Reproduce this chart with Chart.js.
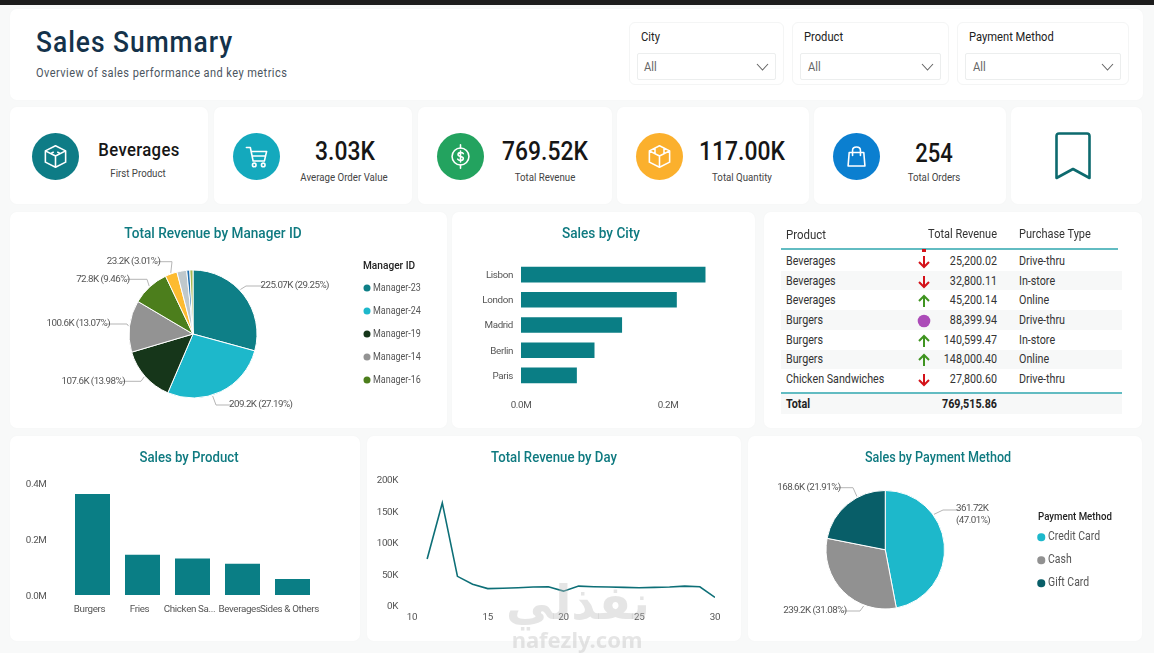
<!DOCTYPE html>
<html>
<head>
<meta charset="utf-8">
<title>Sales Summary</title>
<script src="https://cdn.jsdelivr.net/npm/chart.js@4"></script>
<style>
  html, body { margin: 0; padding: 0; }
  body { width: 1154px; height: 653px; overflow: hidden; position: relative; background: #f8f9f9; font-family: Roboto, sans-serif; color: #333; }
  #topbar { position: absolute; left: 0; top: 0; width: 1154px; height: 5px; background: #1c1c1c; }
  .card { position: absolute; background: #fff; border-radius: 7px; box-shadow: 0 0 3px rgba(0, 0, 0, 0.02); }
  canvas { position: absolute; display: block; }
  /* the reference font is a narrow one, so all page text is squeezed a little */
  .c, .l, .r { position: absolute; white-space: nowrap; line-height: 1; }
  .c { transform: translate(-50%, -50%) scaleX(0.88); }
  .l { transform: translateY(-50%) scaleX(0.88); transform-origin: left center; }
  .r { transform: translate(-100%, -50%) scaleX(0.88); transform-origin: right center; }
  .chartTitle { font-size: 15px; font-weight: 500; color: #0f7a80; }
  .kpi { font-size: 26px; font-weight: 500; color: #161616; }
  .kpiLabel { font-size: 11px; color: #444; }
  .filterLabel { font-size: 12.7px; color: #222; }
  .filterAll { font-size: 12.7px; color: #666; }
  .box { position: absolute; background: #fff; border: 1px solid #eceeee; border-radius: 2px; box-sizing: border-box; }
  .panel { position: absolute; background: #fff; border: 1px solid #f4f5f5; border-radius: 6px; box-sizing: border-box; }
  .icon { position: absolute; width: 47px; height: 47px; border-radius: 50%; }
  .icon svg { position: absolute; left: 10px; top: 10px; width: 27px; height: 27px; fill: none; stroke: #fff; stroke-width: 1.4; stroke-linejoin: round; stroke-linecap: round; }
  .chev { position: absolute; width: 13px; height: 8px; fill: none; stroke: #666; stroke-width: 1.1; }
  .legTitle { font-weight: 500; color: #222; }
  .legItem { color: #555; }
  .dot { position: absolute; border-radius: 50%; transform: translate(-50%, -50%); }
  .rowBg { position: absolute; background: #f7f8f8; }
  .cell { font-size: 12.2px; color: #333; }
  .mark { position: absolute; transform: translate(-50%, -50%); height: 14px; }
  .wm { color: rgba(190, 190, 190, 0.4); pointer-events: none; transform: translate(-50%, -50%); }
</style>
</head>
<body>
<div id="topbar"></div>

<!-- header -->
<div class="card" style="left:10px;top:9px;width:1133px;height:91px"></div>
<div class="l" style="left:36px;top:42px;font-size:30px;font-weight:500;color:#14324a;letter-spacing:1.1px">Sales Summary</div>
<div class="l" style="left:36px;top:73px;font-size:12.5px;color:#4b5560;letter-spacing:0.5px">Overview of sales performance and key metrics</div>

<div class="panel" style="left:629px;top:22px;width:155px;height:63px"></div>
<div class="panel" style="left:792px;top:22px;width:157px;height:63px"></div>
<div class="panel" style="left:957px;top:22px;width:172px;height:63px"></div>
<div class="box" style="left:637px;top:53px;width:139px;height:27px"></div>
<div class="box" style="left:800px;top:53px;width:141px;height:27px"></div>
<div class="box" style="left:965px;top:53px;width:156px;height:27px"></div>
<div class="l filterLabel" style="left:640.5px;top:37px">City</div>
<div class="l filterLabel" style="left:803.5px;top:37px">Product</div>
<div class="l filterLabel" style="left:968.5px;top:37px">Payment Method</div>
<div class="l filterAll" style="left:644px;top:67px">All</div>
<div class="l filterAll" style="left:807.5px;top:67px">All</div>
<div class="l filterAll" style="left:972.5px;top:67px">All</div>
<svg class="chev" style="left:756px;top:63px" viewBox="0 0 13 8"><path d="M1 1 L6.5 7 L12 1"/></svg>
<svg class="chev" style="left:921px;top:63px" viewBox="0 0 13 8"><path d="M1 1 L6.5 7 L12 1"/></svg>
<svg class="chev" style="left:1101px;top:63px" viewBox="0 0 13 8"><path d="M1 1 L6.5 7 L12 1"/></svg>

<!-- kpi cards -->
<div class="card" style="left:10px;top:107px;width:198px;height:97px"></div>
<div class="card" style="left:214px;top:107px;width:198px;height:97px"></div>
<div class="card" style="left:418px;top:107px;width:194px;height:97px"></div>
<div class="card" style="left:617px;top:107px;width:192px;height:97px"></div>
<div class="card" style="left:814px;top:107px;width:192px;height:97px"></div>
<div class="card" style="left:1011px;top:107px;width:131px;height:97px"></div>

<div class="icon" style="left:32px;top:133px;background:#0e7c86">
  <svg viewBox="0 0 24 24"><path d="M12 2.5 L21 7 V17 L12 21.5 L3 17 V7 Z M3 7 L12 11.5 L21 7 M12 11.5 V21.5 M8 9.2 L10 8.2 M16 9.2 L14 8.2"/></svg>
</div>
<div class="icon" style="left:232.5px;top:133px;background:#14a9bd">
  <svg viewBox="0 0 24 24"><path d="M3 4 H6.5 L9 16 H19 L21 7.5 H7.2 M8 11.5 H20"/><circle cx="10" cy="19.5" r="1.6"/><circle cx="18" cy="19.5" r="1.6"/></svg>
</div>
<div class="icon" style="left:436.5px;top:133px;background:#23a35f">
  <svg viewBox="0 0 24 24"><circle cx="12" cy="12" r="7.5"/><path d="M12 1.5 V4.5 M12 19.5 V22.5 M14.5 9.5 C13.5 8 9.8 8.2 9.8 10.3 C9.8 12.8 14.5 11.2 14.5 13.8 C14.5 15.9 10.5 16 9.5 14.4 M12 7.2 V16.8"/></svg>
</div>
<div class="icon" style="left:636px;top:133px;background:#fbb02d">
  <svg viewBox="0 0 24 24"><path d="M12 2.5 L21 7 V17 L12 21.5 L3 17 V7 Z M3 7 L12 11.5 L21 7 M12 11.5 V21.5 M8 9.2 L8 5 M16 9.2 L16 5"/></svg>
</div>
<div class="icon" style="left:832.5px;top:133px;background:#0b7fd0">
  <svg viewBox="0 0 24 24"><path d="M5.5 8.5 H18.5 L19.5 20.5 H4.5 Z M8.5 11 V6.5 C8.5 2.5 15.5 2.5 15.5 6.5 V11"/></svg>
</div>
<svg style="position:absolute;left:1054px;top:131px;width:38px;height:50px" viewBox="0 0 38 50" fill="none" stroke="#0d6a6e" stroke-width="2.6" stroke-linejoin="round">
  <path d="M2.5 47 V5 Q2.5 2.5 5 2.5 H33 Q35.5 2.5 35.5 5 V47 L19 38 Z"/>
</svg>

<div class="c" style="left:139px;top:149px;font-size:19px;font-weight:500;color:#161616;letter-spacing:0.4px">Beverages</div>
<div class="c kpiLabel" style="left:138px;top:173px">First Product</div>
<div class="c kpi" style="left:345px;top:151px">3.03K</div>
<div class="c kpiLabel" style="left:344px;top:177px">Average Order Value</div>
<div class="c kpi" style="left:545px;top:151px">769.52K</div>
<div class="c kpiLabel" style="left:545px;top:177px">Total Revenue</div>
<div class="c kpi" style="left:742px;top:151px">117.00K</div>
<div class="c kpiLabel" style="left:742px;top:177px">Total Quantity</div>
<div class="c kpi" style="left:933.5px;top:153px;font-size:25px">254</div>
<div class="c kpiLabel" style="left:933.5px;top:177px">Total Orders</div>

<!-- chart cards -->
<div class="card" style="left:10px;top:212px;width:437px;height:216px"></div>
<div class="card" style="left:452px;top:212px;width:303px;height:216px"></div>
<div class="card" style="left:764px;top:212px;width:378px;height:216px"></div>
<div class="card" style="left:10px;top:436px;width:350px;height:205px"></div>
<div class="card" style="left:367px;top:436px;width:374px;height:205px"></div>
<div class="card" style="left:748px;top:436px;width:394px;height:205px"></div>

<canvas id="managerPie" width="437" height="216" style="left:10px;top:212px"></canvas>
<canvas id="cityBar" width="303" height="216" style="left:452px;top:212px"></canvas>
<canvas id="productBar" width="350" height="205" style="left:10px;top:436px"></canvas>
<canvas id="dayLine" width="374" height="205" style="left:367px;top:436px"></canvas>
<canvas id="paymentPie" width="394" height="205" style="left:748px;top:436px"></canvas>

<div class="c chartTitle" style="left:213px;top:234px;font-size:15.5px">Total Revenue by Manager ID</div>
<div class="c chartTitle" style="left:600.5px;top:234px;font-size:15.5px">Sales by City</div>
<div class="c chartTitle" style="left:189px;top:456.5px">Sales by Product</div>
<div class="c chartTitle" style="left:553.5px;top:456.5px">Total Revenue by Day</div>
<div class="c chartTitle" style="left:937.5px;top:456.5px;font-size:14.3px">Sales by Payment Method</div>

<div class="l legTitle" style="left:362.5px;top:266px;font-size:11.5px">Manager ID</div>
<div class="l legTitle" style="left:1037.5px;top:515.5px;font-size:11px">Payment Method</div>
<div id="legends"></div>
<div id="salesTable"></div>

<!-- watermark -->
<div class="wm" style="position:absolute;left:578px;top:602px;font-family:'DejaVu Sans';font-weight:bold;font-size:47px;line-height:1">نفذلي</div>
<div class="wm" style="position:absolute;left:577px;top:639px;font-family:'Noto Sans';font-weight:bold;font-size:22px;line-height:1">nafezly.com</div>

<script>
// Manager pie
var managerNames = ["Manager-23", "Manager-24", "Manager-19", "Manager-14", "Manager-16", "Manager-21", "Manager-11", "Manager-09", "Manager-05"];
var managerValues = [225.07, 209.2, 107.6, 100.6, 72.8, 23.2, 19.0, 6.0, 6.05];
var managerColors = ["#0e7f87", "#1db8cb", "#16361a", "#939393", "#4c7e1c", "#fdbb30", "#bfc8cc", "#1f6fb0", "#a8b850"];
var managerLabelText = ["225.07K (29.25%)", "209.2K (27.19%)", "107.6K (13.98%)", "100.6K (13.07%)", "72.8K (9.46%)", "23.2K (3.01%)"];

// City bars
var cityNames = ["Lisbon", "London", "Madrid", "Berlin", "Paris"];
var cityValues = [0.251, 0.212, 0.1375, 0.100, 0.076];

// Product bars
var productNames = ["Burgers", "Fries", "Chicken Sa...", "Beverages", "Sides & Others"];
var productValues = [0.361, 0.144, 0.130, 0.112, 0.057];

// Revenue by day
var dayNumbers = [11, 12, 13, 14, 15, 16, 17, 18, 19, 20, 21, 22, 23, 24, 25, 26, 27, 28, 29, 30];
var dayRevenue = [73000, 162000, 45500, 33000, 26000, 26500, 27500, 28500, 29000, 22000, 30000, 29000, 28500, 28000, 27500, 28000, 28500, 30000, 29000, 12000];

// Payment pie
var paymentNames = ["Credit Card", "Cash", "Gift Card"];
var paymentValues = [361.72, 239.2, 168.6];
var paymentColors = ["#1db8cb", "#919191", "#085e68"];
var paymentLabelText = [["361.72K", "(47.01%)"], ["239.2K (31.08%)"], ["168.6K (21.91%)"]];

// Table
var tableProducts = ["Beverages", "Beverages", "Beverages", "Burgers", "Burgers", "Burgers", "Chicken Sandwiches"];
var tableRevenue = ["25,200.02", "32,800.11", "45,200.14", "88,399.94", "140,599.47", "148,000.40", "27,800.60"];
var tableTypes = ["Drive-thru", "In-store", "Online", "Drive-thru", "In-store", "Online", "Drive-thru"];
var tableTrend = ["down", "down", "up", "flat", "up", "up", "down"];
var tableTotal = "769,515.86";

var tickColor = "#555";
var barColor = "#0a7e85";

//Narrow the canvas text too, same reason as the page text
Chart.register({
  id: "tightText",
  beforeDraw: function (chart) {
    chart.ctx.letterSpacing = "-0.35px";
  }
});

//Draws the "value (percent)" labels with their elbow lines
function leaderLabels(texts, places) {
  return {
    id: "leaderLabels",
    afterDatasetsDraw: function (chart) {
      var ctx = chart.ctx;
      var arc = chart.getDatasetMeta(0).data[0];
      var box = chart.canvas.getBoundingClientRect();
      ctx.save();
      ctx.font = "9.8px Roboto";
      ctx.letterSpacing = "-0.55px";
      ctx.textBaseline = "middle";
      places.forEach(function (p, i) {
        var a = p.angle * Math.PI / 180;
        var r = arc.outerRadius + 1;
        var ex = p.elbowX - box.left;
        var ey = p.y - box.top;
        var tx = p.textX - box.left;
        var dir = p.side == "left" ? -1 : 1;
        ctx.strokeStyle = "#b5b5b5";
        ctx.lineWidth = 1;
        ctx.beginPath();
        ctx.moveTo(arc.x + r * Math.sin(a), arc.y - r * Math.cos(a));
        ctx.lineTo(ex, ey);
        ctx.lineTo(tx - dir * 3, ey);
        ctx.stroke();
        ctx.fillStyle = "#555";
        ctx.textAlign = p.side;
        var lines = [].concat(texts[i]);
        lines.forEach(function (line, n) {
          ctx.fillText(line, tx, ey + n * 12 - (lines.length > 1 ? 1 : 0));
        });
      });
      ctx.restore();
    }
  };
}

//Fixes a scale's thickness so the plot area lands where it should
function fixedWidth(size) {
  return function (scale) { scale.width = size; };
}
function fixedHeight(size) {
  return function (scale) { scale.height = size; };
}

var noLegend = { legend: { display: false }, tooltip: { enabled: false } };
var tickFont = { family: "Roboto", size: 9.8 };
var noGrid = { display: false, drawTicks: false };

new Chart(document.getElementById("managerPie"), {
  type: "pie",
  data: {
    labels: managerNames,
    datasets: [{ data: managerValues, backgroundColor: managerColors, borderColor: "#fff", borderWidth: 1 }]
  },
  options: {
    responsive: false,
    animation: false,
    plugins: noLegend,
    layout: { padding: { left: 118.5, right: 189.5, top: 57.5, bottom: 29.5 } }
  },
  plugins: [leaderLabels(managerLabelText, [
    { angle: 46.8, elbowX: 246, textX: 260.5, y: 286, side: "left" },
    { angle: 162.4, elbowX: 216, textX: 229, y: 405, side: "left" },
    { angle: 228.7, elbowX: 141, textX: 125, y: 381.3, side: "right" },
    { angle: 277, elbowX: 127, textX: 110, y: 324, side: "right" },
    { angle: 317.6, elbowX: 147, textX: 129.7, y: 279.3, side: "right" },
    { angle: 340, elbowX: 172, textX: 160.3, y: 261.7, side: "right" }
  ])]
});

new Chart(document.getElementById("cityBar"), {
  type: "bar",
  data: {
    labels: cityNames,
    datasets: [{ data: cityValues, backgroundColor: barColor, barPercentage: 0.62, categoryPercentage: 1 }]
  },
  options: {
    indexAxis: "y",
    responsive: false,
    animation: false,
    plugins: noLegend,
    layout: { padding: { left: 0, right: 13.5, top: 50, bottom: 0 } },
    scales: {
      x: {
        min: 0, max: 0.3,
        grid: noGrid,
        border: { display: false },
        ticks: {
          stepSize: 0.2, padding: 12, font: tickFont, color: tickColor, maxRotation: 0,
          callback: function (v) { return v.toFixed(1) + "M"; }
        },
        afterBuildTicks: function (scale) {
          scale.ticks = scale.ticks.filter(function (t) { return t.value <= 0.2; });
        },
        afterFit: fixedHeight(40)
      },
      y: {
        grid: noGrid,
        border: { display: false },
        ticks: { padding: 8, labelOffset: 1, font: tickFont, color: tickColor },
        afterFit: fixedWidth(69)
      }
    }
  }
});

new Chart(document.getElementById("productBar"), {
  type: "bar",
  data: {
    labels: productNames,
    datasets: [{ data: productValues, backgroundColor: barColor, barPercentage: 0.7, categoryPercentage: 1 }]
  },
  options: {
    responsive: false,
    animation: false,
    plugins: noLegend,
    layout: { padding: { left: 0, right: 42.5, top: 47, bottom: 0 } },
    scales: {
      x: {
        grid: noGrid,
        border: { display: false },
        ticks: { padding: 9, labelOffset: -3, font: tickFont, color: tickColor, maxRotation: 0, autoSkip: false },
        afterFit: fixedHeight(46)
      },
      y: {
        min: 0, max: 0.4,
        grid: noGrid,
        border: { display: false },
        ticks: {
          stepSize: 0.2, padding: 21, labelOffset: 2, font: tickFont, color: tickColor,
          callback: function (v) { return v.toFixed(1) + "M"; }
        },
        afterFit: fixedWidth(57.5)
      }
    }
  }
});

new Chart(document.getElementById("dayLine"), {
  type: "line",
  data: {
    datasets: [{
      data: dayNumbers.map(function (d, i) { return { x: d, y: dayRevenue[i] }; }),
      borderColor: "#0d6f77",
      borderWidth: 1.6,
      pointRadius: 0,
      tension: 0
    }]
  },
  options: {
    responsive: false,
    animation: false,
    plugins: noLegend,
    layout: { padding: { left: 0, right: 26, top: 43, bottom: 0 } },
    scales: {
      x: {
        type: "linear", min: 10, max: 30,
        grid: noGrid,
        border: { display: false },
        ticks: { stepSize: 5, padding: 7, font: tickFont, color: tickColor, maxRotation: 0 },
        afterFit: fixedHeight(36)
      },
      y: {
        min: 0, max: 200000,
        grid: noGrid,
        border: { display: false },
        ticks: {
          stepSize: 50000, padding: 14, labelOffset: 2, font: tickFont, color: tickColor,
          callback: function (v) { return (v / 1000) + "K"; }
        },
        afterFit: fixedWidth(45)
      }
    }
  }
});

new Chart(document.getElementById("paymentPie"), {
  type: "pie",
  data: {
    labels: paymentNames,
    datasets: [{ data: paymentValues, backgroundColor: paymentColors, borderColor: "#fff", borderWidth: 1 }]
  },
  options: {
    responsive: false,
    animation: false,
    plugins: noLegend,
    layout: { padding: { left: 77.5, right: 197, top: 54, bottom: 31.5 } }
  },
  plugins: [leaderLabels(paymentLabelText, [
    { angle: 54, elbowX: 943, textX: 956, y: 510, side: "left" },
    { angle: 201, elbowX: 860, textX: 846.7, y: 611, side: "right" },
    { angle: 332, elbowX: 853, textX: 840.7, y: 487.7, side: "right" }
  ])]
});

//Legends
function addLegend(names, colors, dotX, textX, ys, size, fontSize) {
  var holder = document.getElementById("legends");
  names.forEach(function (name, i) {
    var dot = document.createElement("div");
    dot.className = "dot";
    dot.style.cssText = "left:" + dotX + "px;top:" + ys[i] + "px;width:" + size + "px;height:" + size + "px;background:" + colors[i];
    holder.appendChild(dot);
    var text = document.createElement("div");
    text.className = "l legItem";
    text.style.cssText = "left:" + textX + "px;top:" + ys[i] + "px;font-size:" + fontSize + "px";
    text.textContent = name;
    holder.appendChild(text);
  });
}
addLegend(managerNames.slice(0, 5), managerColors, 366.7, 372.7, [287.7, 311, 334, 357, 380], 7, 10.2);
addLegend(paymentNames, paymentColors, 1041.3, 1047.7, [537, 560.3, 583.3], 7.5, 11.9);

//Table, built from the arrays
function addCell(cls, css, text) {
  var div = document.createElement("div");
  div.className = cls;
  div.style.cssText = css;
  if (text) div.innerHTML = text;
  document.getElementById("salesTable").appendChild(div);
  return div;
}

function trendMark(kind) {
  if (kind == "flat") {
    return '<svg width="14" height="14" viewBox="0 0 14 14"><circle cx="7" cy="7" r="6.3" fill="#ac4cb8"/></svg>';
  }
  var color = kind == "up" ? "#3f9420" : "#d4121a";
  var path = kind == "up" ? "M7 13 V2 M2 7 L7 2 L12 7" : "M7 1 V12 M2 7 L7 12 L12 7";
  return '<svg width="14" height="14" viewBox="0 0 14 14"><path d="' + path + '" fill="none" stroke="' + color + '" stroke-width="2"/></svg>';
}

addCell("l cell", "left:786px;top:233.5px;font-size:13px", "Product");
addCell("r cell", "left:996.5px;top:233.5px;font-size:12.5px", "Total Revenue");
addCell("l cell", "left:1018.5px;top:233.5px;font-size:12.5px", "Purchase Type");
addCell("rowBg", "left:781px;top:248px;width:337px;height:1.5px;background:#62bcc2");
addCell("rowBg", "left:921.5px;top:249px;width:4px;height:2.5px;background:#d4121a");

tableProducts.forEach(function (name, i) {
  var y = 261 + i * 19.67;
  if (i % 2 == 1) addCell("rowBg", "left:781px;top:" + (y - 9.8) + "px;width:341px;height:19.6px");
  addCell("l cell", "left:786px;top:" + y + "px", name);
  addCell("mark", "left:924px;top:" + y + "px", trendMark(tableTrend[i]));
  addCell("r cell", "left:997px;top:" + y + "px", tableRevenue[i]);
  addCell("l cell", "left:1018.5px;top:" + y + "px", tableTypes[i]);
});

addCell("rowBg", "left:781px;top:393px;width:341px;height:21px");
addCell("rowBg", "left:781px;top:392px;width:341px;height:1.5px;background:#62bcc2");
addCell("l cell", "left:786px;top:403.5px;font-weight:700;color:#222", "Total");
addCell("r cell", "left:997px;top:403.5px;font-weight:700;color:#222", tableTotal);
</script>
</body>
</html>
